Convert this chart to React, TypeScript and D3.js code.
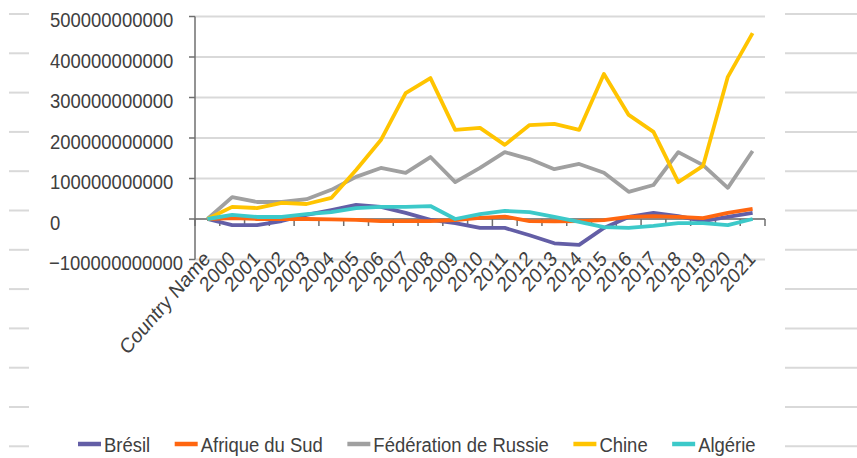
import React, { useEffect, useRef } from "react";
import * as d3 from "d3";

const categories = ["Country Name", "2000", "2001", "2002", "2003", "2004", "2005", "2006", "2007", "2008", "2009", "2010", "2011", "2012", "2013", "2014", "2015", "2016", "2017", "2018", "2019", "2020", "2021"];

// values in billions
const bresil = [0, -15, -15, -5, 10, 22, 35, 30, 15, -2, -10, -22, -22, -40, -60, -64, -22, 5, 15, 7, -5, 5, 15];
const afriqueDuSud = [0, 2, 0, 0, 0, -1, -2, -5, -5, -5, -3, 3, 6, -5, -6, -5, -3, 5, 7, 5, 2, 15, 25];
const russie = [0, 54, 42, 42, 49, 72, 104, 126, 114, 153, 91, 126, 165, 148, 123, 136, 114, 67, 84, 165, 133, 77, 168];
const chine = [0, 30, 27, 40, 37, 52, 121, 195, 311, 348, 220, 225, 183, 232, 235, 220, 358, 257, 215, 91, 131, 351, 459];
const algerie = [0, 10, 5, 5, 12, 17, 27, 30, 30, 32, 0, 12, 20, 17, 5, -7, -20, -22, -17, -10, -10, -15, 0];

const seriesNames = ["Brésil", "Afrique du Sud", "Fédération de Russie", "Chine", "Algérie"];
const seriesValues = [bresil, afriqueDuSud, russie, chine, algerie];
const seriesColors = ["#635ea6", "#ff6610", "#a0a0a0", "#ffc400", "#3cc9c9"];

const yTicks = [-100e9, 0, 100e9, 200e9, 300e9, 400e9, 500e9];

const W = 857;
const H = 458;
// the picture looks squeezed sideways, so text is narrowed a bit
const SX = 0.88;

const App = () => {
  const ref = useRef<SVGSVGElement>(null);

  useEffect(() => {
    drawChart();
  }, []);

  const drawChart = () => {
    const svg = d3.select(ref.current);
    svg.selectAll("*").remove();
    const font = "'Liberation Sans', Arial, sans-serif";
    const textColor = "#404040";

    const x = d3.scaleBand().domain(categories).range([195, 765]);
    const y = d3.scaleLinear().domain([-100e9, 500e9]).range([259.5, 16.5]);

    // stray lines on both edges
    const edgeY = d3.range(12).map((i) => 14 + i * 39.3);
    svg.selectAll(".edgeL").data(edgeY).enter().append("line")
      .attr("x1", 9).attr("x2", 29).attr("y1", (d) => d).attr("y2", (d) => d)
      .attr("stroke", "#d9d9d9").attr("stroke-width", 2);
    svg.selectAll(".edgeR").data(edgeY).enter().append("line")
      .attr("x1", 785).attr("x2", W).attr("y1", (d) => d).attr("y2", (d) => d)
      .attr("stroke", "#d9d9d9").attr("stroke-width", 2);

    // gridlines
    svg.selectAll(".grid").data(yTicks).enter().append("line")
      .attr("x1", 195).attr("x2", 765)
      .attr("y1", (d) => y(d)).attr("y2", (d) => y(d))
      .attr("stroke", "#d9d9d9").attr("stroke-width", 2);

    // y labels (left aligned, like the original)
    svg.selectAll(".ylab").data(yTicks).enter().append("text")
      .attr("transform", (d) => `translate(${d < 0 ? 49 : 50},${y(d) + 10.5}) scale(${SX},1)`)
      .attr("text-anchor", "start")
      .attr("font-family", font).attr("font-size", 21).attr("fill", textColor)
      .text((d) => d3.format("d")(d));

    const axisColor = "#6f6f6f";
    // y axis
    svg.append("line").attr("x1", 195).attr("x2", 195).attr("y1", y(500e9)).attr("y2", y(-100e9))
      .attr("stroke", axisColor).attr("stroke-width", 1.5);
    svg.selectAll(".ytick").data(yTicks).enter().append("line")
      .attr("x1", 189).attr("x2", 195).attr("y1", (d) => y(d)).attr("y2", (d) => y(d))
      .attr("stroke", axisColor).attr("stroke-width", 1.5);

    // x axis
    svg.append("line").attr("x1", 195).attr("x2", 765).attr("y1", y(0)).attr("y2", y(0))
      .attr("stroke", axisColor).attr("stroke-width", 1.5);
    const tickX = categories.map((c) => x(c)!).concat([765]);
    svg.selectAll(".xtick").data(tickX).enter().append("line")
      .attr("x1", (d) => d).attr("x2", (d) => d).attr("y1", y(0)).attr("y2", y(0) + 7)
      .attr("stroke", axisColor).attr("stroke-width", 1.5);

    // x labels
    svg.selectAll(".xlab").data(categories).enter().append("text")
      .attr("transform", (d) => `translate(${x(d)! + x.bandwidth() / 2 + 4},260) scale(${SX},1) rotate(-45)`)
      .attr("text-anchor", "end")
      .attr("font-family", font).attr("font-size", 21).attr("fill", textColor)
      .text((d) => d);

    // series
    const line = d3.line<number>()
      .x((d, i) => x(categories[i])! + x.bandwidth() / 2)
      .y((d) => y(d * 1e9));
    seriesValues.forEach((vals, i) => {
      svg.append("path")
        .attr("d", line(vals))
        .attr("fill", "none")
        .attr("stroke", seriesColors[i])
        .attr("stroke-width", 3.8)
        .attr("stroke-linejoin", "round");
    });

    // legend
    let lx = 78;
    seriesNames.forEach((name, i) => {
      const g = svg.append("g").attr("transform", `translate(${lx},444)`);
      g.append("line").attr("x1", 0).attr("x2", 23).attr("y1", 0).attr("y2", 0)
        .attr("stroke", seriesColors[i]).attr("stroke-width", 4.5);
      const t = g.append("text")
        .attr("transform", `translate(26,8) scale(${SX},1)`)
        .attr("font-family", font).attr("font-size", 21).attr("fill", textColor)
        .text(name);
      const len = (t.node() as SVGTextElement).getComputedTextLength() * SX;
      lx += 26 + len + 24.5;
    });
  };

  return (
    <div>
      <svg ref={ref} width={W} height={H} style={{ position: "absolute", left: 0, top: 0, background: "#fff" }} />
    </div>
  );
};

export default App;
